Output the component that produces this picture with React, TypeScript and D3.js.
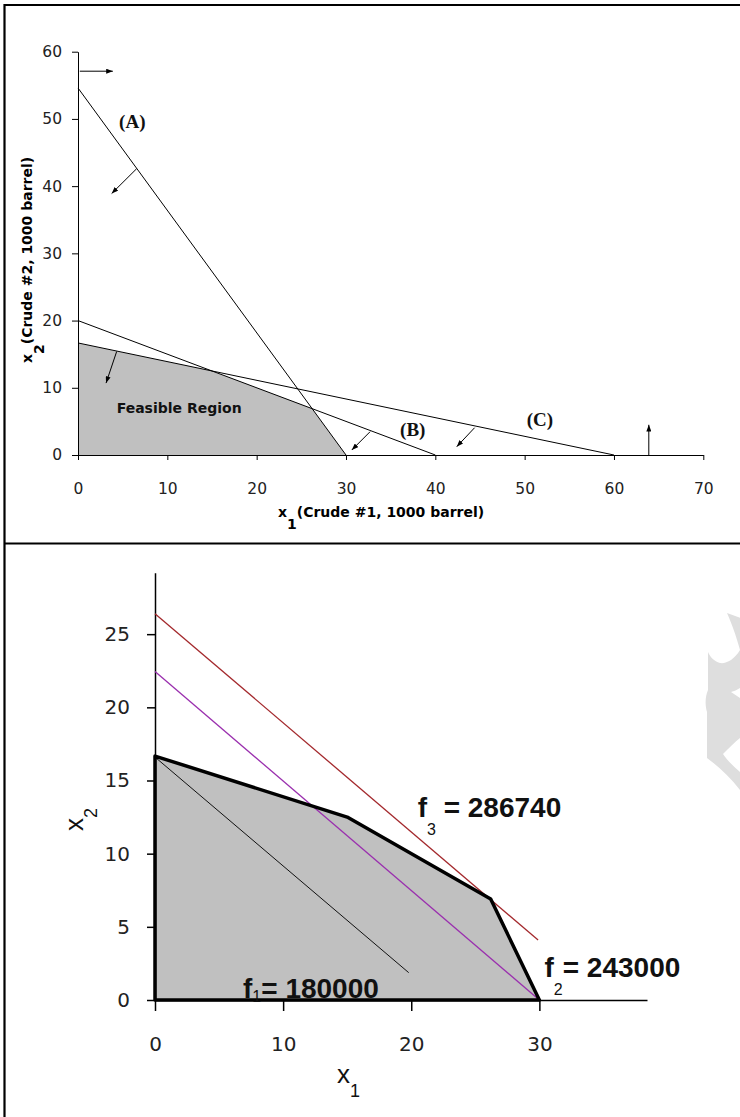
import React, { useEffect, useRef } from 'react';
import * as d3 from 'd3';

// ---- top chart: refinery constraints (x1, x2 in 1000 barrel) ----
const topXTicks = [0, 10, 20, 30, 40, 50, 60, 70];
const topYTicks = [0, 10, 20, 30, 40, 50, 60];
const lineA = [[0, 54.6], [30, 0]];
const lineB = [[0, 20], [40, 0]];
const lineC = [[0, 16.67], [60, 0]];
const feasible = [[0, 0], [0, 16.67], [15, 12.5], [26.2, 6.9], [30, 0]];
// [fromX, fromY, toX, toY]
const arrows = [
  [0.2, 57.1, 3.9, 57.1],
  [6.57, 42.6, 3.77, 38.9],
  [4.33, 15.4, 3.14, 10.7],
  [32.7, 3.47, 30.65, 0.74],
  [44.4, 4.06, 42.4, 1.24],
  [63.9, 0, 63.9, 4.5],
];
const constraintNames = ['(A)', '(B)', '(C)'];
const constraintNameX = [4.6, 36.06, 50.24];
const constraintNameY = [48.7, 2.83, 4.3];

// ---- bottom chart: objective contours ----
const botXTicks = [0, 10, 20, 30];
const botYTicks = [0, 5, 10, 15, 20, 25];
const f1Line = [[0, 16.6], [19.8, 1.87]];
const f2Line = [[0, 22.45], [30, 0]];
const f3Line = [[0, 26.4], [29.9, 4.1]];
const fNames = ['1', '2', '3'];
const fValues = ['= 180000', '= 243000', ' = 286740'];
const fX = [6.87, 30.4, 20.5];
const fY = [0.14, 1.57, 12.5];
const fSubShift = [4, 18, 18];

const App = () => {
  const svgRef = useRef<SVGSVGElement>(null);

  useEffect(() => {
    const svg = d3.select(svgRef.current);
    svg.selectAll('*').remove();

    const defs = svg.append('defs');
    defs.append('marker')
      .attr('id', 'head')
      .attr('viewBox', '0 0 8 6')
      .attr('refX', 8).attr('refY', 3)
      .attr('markerWidth', 7).attr('markerHeight', 5)
      .attr('markerUnits', 'userSpaceOnUse')
      .attr('orient', 'auto')
      .append('path').attr('d', 'M0,0L8,3L0,6Z').attr('fill', '#000');

    // watermark scrap on the right edge
    svg.append('path')
      .attr('d', 'M727,613 L760,625 L760,688 L740,688 C737,690 734,691 731,692 C734,694 737,696 740,698 L760,698 L760,738 L740,738 C735,742 729,748 723,754 C727,760 733,766 740,772 L760,775 L760,800 L740,790 C730,777 718,766 707,758 L707,712 C705,705 705,697 708,690 L708,652 C710,657 714,661 720,663 C726,664 734,660 740,650 C736,635 731,622 727,613 Z')
      .attr('fill', '#dedede');

    // frames
    svg.append('path')
      .attr('d', 'M4.5,1117V5H740M4.5,543.5H740')
      .attr('fill', 'none').attr('stroke', '#000').attr('stroke-width', 2.2);

    // ================= top chart =================
    const x1 = d3.scaleLinear().domain([0, 70]).range([78, 703.3]);
    const y1 = d3.scaleLinear().domain([0, 60]).range([455, 51.7]);
    const line1 = d3.line<number[]>().x(d => x1(d[0])).y(d => y1(d[1]));
    const top = svg.append('g');

    top.append('path').datum(feasible)
      .attr('d', d => line1(d) + 'Z')
      .attr('fill', '#c0c0c0');

    const tx = top.append('g')
      .attr('transform', `translate(0,${y1(0)})`)
      .call(d3.axisBottom(x1).tickValues(topXTicks).tickSize(5).tickSizeOuter(0).tickPadding(23));
    const ty = top.append('g')
      .attr('transform', `translate(${x1(0)},0)`)
      .call(d3.axisLeft(y1).tickValues(topYTicks).tickSize(6).tickSizeOuter(0).tickPadding(10));
    [tx, ty].forEach(a => {
      a.selectAll('path, line').attr('stroke', '#000');
      a.selectAll('text').attr('font-family', 'DejaVu Sans').attr('font-size', 15.5).attr('fill', '#222');
    });

    [lineA, lineB, lineC].forEach(l => {
      top.append('path').datum(l).attr('d', line1)
        .attr('fill', 'none').attr('stroke', '#000').attr('stroke-width', 1);
    });

    top.selectAll('line.arrow').data(arrows).enter().append('line')
      .attr('class', 'arrow')
      .attr('x1', d => x1(d[0])).attr('y1', d => y1(d[1]))
      .attr('x2', d => x1(d[2])).attr('y2', d => y1(d[3]))
      .attr('stroke', '#000').attr('stroke-width', 1)
      .attr('marker-end', 'url(#head)');

    constraintNames.forEach((t, i) => {
      top.append('text')
        .attr('x', x1(constraintNameX[i])).attr('y', y1(constraintNameY[i]))
        .attr('font-family', 'Liberation Serif').attr('font-weight', 'bold')
        .attr('font-size', 19).attr('fill', '#111')
        .text(t);
    });

    top.append('text')
      .attr('x', x1(4.33)).attr('y', y1(6.25))
      .attr('font-family', 'DejaVu Sans').attr('font-weight', 'bold')
      .attr('font-size', 14).attr('fill', '#111')
      .text('Feasible Region');

    const xt = top.append('text')
      .attr('x', 278).attr('y', 517)
      .attr('font-family', 'DejaVu Sans').attr('font-weight', 'bold')
      .attr('font-size', 14).attr('fill', '#000');
    xt.append('tspan').text('x');
    xt.append('tspan').attr('dy', 12).text('1');
    xt.append('tspan').attr('dy', -12).text('(Crude #1, 1000 barrel)');

    const yt = top.append('text')
      .attr('transform', 'translate(32,363) rotate(-90)')
      .attr('font-family', 'DejaVu Sans').attr('font-weight', 'bold')
      .attr('font-size', 14).attr('fill', '#000');
    yt.append('tspan').text('x');
    yt.append('tspan').attr('dy', 12).text('2');
    yt.append('tspan').attr('dy', -12).text('(Crude #2, 1000 barrel)');

    // ================= bottom chart =================
    const x2 = d3.scaleLinear().domain([0, 38.4]).range([155, 647]);
    const y2 = d3.scaleLinear().domain([0, 29.2]).range([1000, 572.7]);
    const line2 = d3.line<number[]>().x(d => x2(d[0])).y(d => y2(d[1]));
    const bot = svg.append('g');

    bot.append('path').datum(feasible)
      .attr('d', d => line2(d) + 'Z')
      .attr('fill', '#c0c0c0');

    const bx = bot.append('g')
      .attr('transform', `translate(0,${y2(0)})`)
      .call(d3.axisBottom(x2).tickValues(botXTicks).tickSize(11).tickSizeOuter(0).tickPadding(26));
    const by = bot.append('g')
      .attr('transform', `translate(${x2(0)},0)`)
      .call(d3.axisLeft(y2).tickValues(botYTicks).tickSize(8).tickSizeOuter(0).tickPadding(17));
    [bx, by].forEach(a => {
      a.selectAll('path, line').attr('stroke', '#000').attr('stroke-width', 1.5);
      a.selectAll('text').attr('font-family', 'DejaVu Sans').attr('font-size', 20).attr('fill', '#222');
    });

    bot.append('path').datum(f1Line).attr('d', line2)
      .attr('fill', 'none').attr('stroke', '#111').attr('stroke-width', 1);
    bot.append('path').datum(f2Line).attr('d', line2)
      .attr('fill', 'none').attr('stroke', '#9a2fae').attr('stroke-width', 1.3);
    bot.append('path').datum(f3Line).attr('d', line2)
      .attr('fill', 'none').attr('stroke', '#a3282c').attr('stroke-width', 1.3);

    bot.append('path').datum(feasible)
      .attr('d', d => line2(d) + 'Z')
      .attr('fill', 'none').attr('stroke', '#000')
      .attr('stroke-width', 3.5).attr('stroke-linejoin', 'round');

    fNames.forEach((n, i) => {
      const t = bot.append('text')
        .attr('x', x2(fX[i])).attr('y', y2(fY[i]))
        .attr('font-family', 'Liberation Sans').attr('font-weight', 'bold')
        .attr('font-size', 28).attr('fill', '#111')
        .attr('xml:space', 'preserve').style('white-space', 'pre');
      t.append('tspan').text('f');
      t.append('tspan').attr('dy', fSubShift[i]).attr('font-size', 16).attr('font-weight', 'normal').text(n);
      t.append('tspan').attr('dy', -fSubShift[i]).text(fValues[i]);
    });

    const bxt = bot.append('text')
      .attr('x', 337).attr('y', 1083)
      .attr('font-family', 'Liberation Sans').attr('font-size', 26).attr('fill', '#111');
    bxt.append('tspan').text('x');
    bxt.append('tspan').attr('dy', 14).attr('font-size', 18).text('1');

    const byt = bot.append('text')
      .attr('transform', 'translate(83,831) rotate(-90)')
      .attr('font-family', 'Liberation Sans').attr('font-size', 26).attr('fill', '#111');
    byt.append('tspan').text('x');
    byt.append('tspan').attr('dy', 14).attr('font-size', 18).text('2');
  });

  return (
    <svg ref={svgRef} width={740} height={1117}
      style={{ position: 'absolute', left: 0, top: 0, background: '#fff' }} />
  );
};

export default App;
